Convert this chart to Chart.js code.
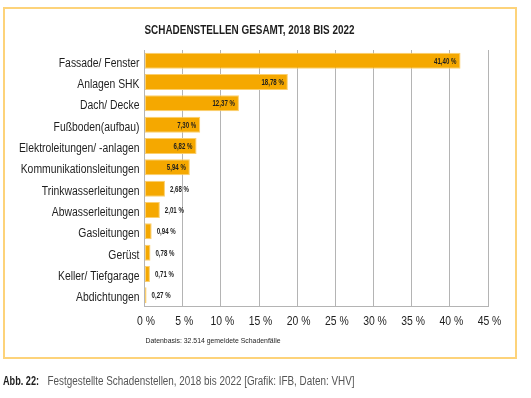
<!DOCTYPE html>
<html>
<head>
<meta charset="utf-8">
<script src="https://cdn.jsdelivr.net/npm/chart.js@4/dist/chart.umd.min.js"></script>
<style>
  html, body { margin: 0; padding: 0; background: #fff; }
  body { width: 531px; height: 398px; position: relative; overflow: hidden; }
  #wrap { position: absolute; left: 0; top: 0; width: 531px; height: 398px; }
  #frame { position: absolute; left: 3px; top: 7px; width: 510px; height: 348px;
           border: 2px solid #fdd37a; pointer-events: none; }
</style>
</head>
<body>
<div id="frame"></div>
<div id="wrap"><canvas id="chart" width="531" height="398"></canvas></div>
<script>
// Kategorien und Werte (Prozent)
const categories = ['Fassade/ Fenster', 'Anlagen SHK', 'Dach/ Decke', 'Fußboden(aufbau)',
  'Elektroleitungen/ -anlagen', 'Kommunikationsleitungen', 'Trinkwasserleitungen',
  'Abwasserleitungen', 'Gasleitungen', 'Gerüst', 'Keller/ Tiefgarage', 'Abdichtungen'];
const shares = [41.40, 18.78, 12.37, 7.30, 6.82, 5.94, 2.68, 2.01, 0.94, 0.78, 0.71, 0.27];
const xTicks = [0, 5, 10, 15, 20, 25, 30, 35, 40, 45];

const FONT = "'Liberation Sans', Arial, sans-serif";
const fmt = v => v.toFixed(2).replace('.', ',') + ' %';

// schmale Schrift: Text horizontal gestaucht zeichnen
function narrow(ctx, text, x, y, align, sx) {
  ctx.save();
  ctx.translate(x, y);
  ctx.scale(sx, 1);
  ctx.textAlign = align;
  ctx.fillText(text, 0, 0);
  ctx.restore();
}
// Text in eine vorgegebene Breite einpassen
function fit(ctx, text, x, y, width) {
  const w = ctx.measureText(text).width;
  narrow(ctx, text, x, y, 'left', width / w);
}

const extras = {
  id: 'extras',
  afterDatasetsDraw(chart) {
    const ctx = chart.ctx;
    const meta = chart.getDatasetMeta(0);
    ctx.save();
    ctx.font = 'bold 8.5px ' + FONT;
    ctx.fillStyle = '#1e1e1e';
    ctx.textBaseline = 'middle';
    meta.data.forEach((bar, i) => {
      const v = shares[i];
      if (v >= 5) narrow(ctx, fmt(v), bar.x - 4, bar.y + 0.5, 'right', 0.72);
      else narrow(ctx, fmt(v), bar.x + 5, bar.y + 0.5, 'left', 0.72);
    });
    ctx.restore();
  },
  afterDraw(chart) {
    const ctx = chart.ctx;
    const area = chart.chartArea;
    const xs = chart.scales.x;
    const meta = chart.getDatasetMeta(0);
    ctx.save();
    ctx.fillStyle = '#1e1e1e';
    ctx.textBaseline = 'middle';

    // Kategorien
    ctx.font = '12.5px ' + FONT;
    meta.data.forEach((bar, i) => narrow(ctx, categories[i], area.left - 5, bar.y + 2.5, 'right', 0.83));

    // x-Achse
    ctx.font = '13px ' + FONT;
    xTicks.forEach(t => narrow(ctx, t + ' %', xs.getPixelForValue(t) + 1.5, 321.5, 'center', 0.8));

    // Titel
    ctx.font = 'bold 13px ' + FONT;
    fit(ctx, 'SCHADENSTELLEN GESAMT, 2018 BIS 2022', area.left, 30, 210);

    // Fußnote
    ctx.font = '8px ' + FONT;
    fit(ctx, 'Datenbasis: 32.514 gemeldete Schadenfälle', area.left + 1, 341, 135);

    // Bildunterschrift
    ctx.font = 'bold 12px ' + FONT;
    fit(ctx, 'Abb. 22:', 3, 381.5, 36);
    ctx.fillStyle = '#555';
    ctx.font = '12px ' + FONT;
    fit(ctx, 'Festgestellte Schadenstellen, 2018 bis 2022 [Grafik: IFB, Daten: VHV]', 47.5, 381.5, 307);
    ctx.restore();
  }
};

new Chart(document.getElementById('chart'), {
  type: 'bar',
  data: {
    labels: categories,
    datasets: [{
      data: shares,
      backgroundColor: '#f5a800',
      borderColor: '#fbcf6e',
      borderWidth: 1,
      borderSkipped: false,
      barPercentage: 0.78,
      categoryPercentage: 0.96
    }]
  },
  options: {
    indexAxis: 'y',
    responsive: false,
    animation: false,
    layout: { padding: { top: 50, right: 43, bottom: 62, left: 0 } },
    plugins: {
      legend: { display: false },
      title: { display: false },
      tooltip: { enabled: false }
    },
    scales: {
      x: {
        min: 0,
        max: 45,
        afterBuildTicks: s => { s.ticks = xTicks.map(v => ({ value: v })); },
        afterFit: s => { s.height = 30; },
        grid: { color: '#b4b4b4', lineWidth: 1, drawTicks: false },
        border: { display: true, color: '#b4b4b4' },
        ticks: { display: false }
      },
      y: {
        afterFit: s => { s.width = 144.5; },
        grid: { display: false },
        border: { display: true, color: '#b4b4b4' },
        ticks: { display: false }
      }
    }
  },
  plugins: [extras]
});
</script>
</body>
</html>
